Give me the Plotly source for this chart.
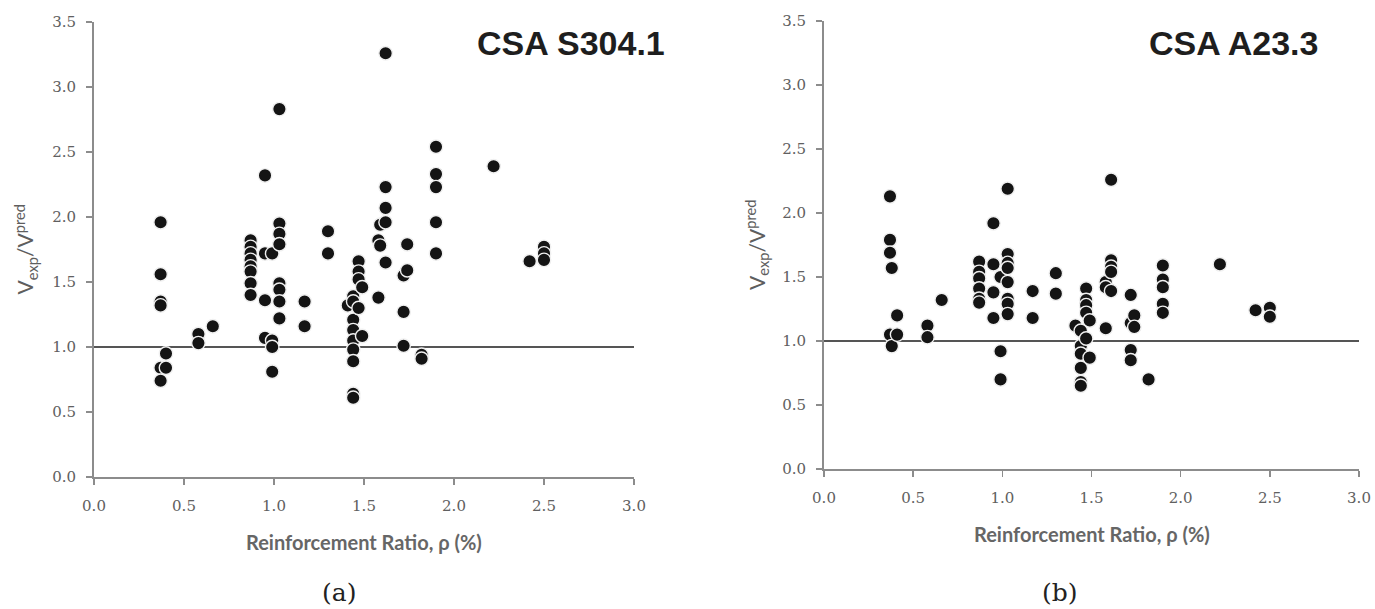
import plotly.graph_objects as go

# ---------------- data ----------------
# (a) CSA S304.1
rho_a = [0.37, 0.37, 0.37, 0.37, 0.37, 0.37,
         0.40, 0.40,
         0.58, 0.58,
         0.66,
         0.87, 0.87, 0.87, 0.87, 0.87, 0.87, 0.87, 0.87,
         0.95, 0.95, 0.95, 0.95,
         0.99, 0.99, 0.99, 0.99,
         1.03, 1.03, 1.03, 1.03, 1.03, 1.03, 1.03, 1.03,
         1.17, 1.17,
         1.30, 1.30,
         1.41,
         1.44, 1.44, 1.44, 1.44, 1.44, 1.44, 1.44, 1.44, 1.44,
         1.47, 1.47, 1.47, 1.47,
         1.49, 1.49,
         1.58, 1.58,
         1.59, 1.59,
         1.62, 1.62, 1.62, 1.62, 1.62,
         1.72, 1.72, 1.72,
         1.74, 1.74,
         1.82, 1.82,
         1.90, 1.90, 1.90, 1.90, 1.90,
         2.22,
         2.42,
         2.50, 2.50, 2.50]
ratio_a = [1.96, 1.56, 1.35, 1.32, 0.84, 0.74,
           0.95, 0.84,
           1.10, 1.03,
           1.16,
           1.82, 1.77, 1.72, 1.67, 1.62, 1.58, 1.49, 1.40,
           2.32, 1.72, 1.36, 1.07,
           1.72, 1.05, 1.00, 0.81,
           2.83, 1.95, 1.87, 1.79, 1.49, 1.44, 1.35, 1.22,
           1.35, 1.16,
           1.89, 1.72,
           1.32,
           1.39, 1.35, 1.21, 1.13, 1.05, 0.98, 0.89, 0.64, 0.61,
           1.66, 1.58, 1.52, 1.30,
           1.46, 1.085,
           1.82, 1.38,
           1.94, 1.78,
           3.26, 2.23, 2.07, 1.96, 1.65,
           1.55, 1.27, 1.01,
           1.79, 1.59,
           0.94, 0.91,
           2.54, 2.33, 2.23, 1.96, 1.72,
           2.39,
           1.66,
           1.77, 1.72, 1.67]

# (b) CSA A23.3
rho_b = [0.37, 0.37, 0.37, 0.37,
         0.38, 0.38,
         0.41, 0.41,
         0.58, 0.58,
         0.66,
         0.87, 0.87, 0.87, 0.87, 0.87, 0.87,
         0.95, 0.95, 0.95, 0.95,
         0.99, 0.99, 0.99,
         1.03, 1.03, 1.03, 1.03, 1.03, 1.03, 1.03, 1.03,
         1.17, 1.17,
         1.30, 1.30,
         1.41,
         1.44, 1.44, 1.44, 1.44, 1.44, 1.44,
         1.47, 1.47, 1.47, 1.47, 1.47,
         1.49, 1.49,
         1.58, 1.58, 1.58,
         1.61, 1.61, 1.61, 1.61, 1.61,
         1.72, 1.72, 1.72, 1.72,
         1.74, 1.74,
         1.82,
         1.90, 1.90, 1.90, 1.90, 1.90,
         2.22,
         2.42,
         2.50, 2.50]
ratio_b = [2.13, 1.79, 1.69, 1.05,
           1.57, 0.96,
           1.20, 1.05,
           1.12, 1.03,
           1.32,
           1.62, 1.54, 1.49, 1.41, 1.33, 1.30,
           1.92, 1.60, 1.38, 1.18,
           1.50, 0.92, 0.70,
           2.19, 1.68, 1.61, 1.57, 1.46, 1.33, 1.29, 1.21,
           1.39, 1.18,
           1.53, 1.37,
           1.12,
           1.08, 0.96, 0.90, 0.79, 0.68, 0.65,
           1.41, 1.32, 1.28, 1.22, 1.02,
           1.16, 0.87,
           1.46, 1.42, 1.10,
           2.26, 1.63, 1.58, 1.54, 1.39,
           1.36, 1.14, 0.93, 0.85,
           1.20, 1.11,
           0.70,
           1.59, 1.48, 1.42, 1.29, 1.22,
           1.60,
           1.24,
           1.26, 1.19]

REF_RATIO = 1.0
y_ticks = [0.0, 0.5, 1.0, 1.5, 2.0, 2.5, 3.0, 3.5]
x_ticks = [0.0, 0.5, 1.0, 1.5, 2.0, 2.5, 3.0]
panel_titles = ["CSA S304.1", "CSA A23.3"]
panel_tags = ["(a)", "(b)"]
x_title = "Reinforcement Ratio, \u03c1 (%)"
y_title = "V<sub>exp</sub>/V<sup>pred</sup>"

# ---------------- figure ----------------
W, H = 1375, 609
fig = go.Figure()

marker = dict(color="#141414", size=13.5, line=dict(color="#f0f0f0", width=1.4))
fig.add_trace(go.Scatter(x=rho_a, y=ratio_a, mode="markers", marker=marker,
                         xaxis="x", yaxis="y", showlegend=False, hoverinfo="skip"))
fig.add_trace(go.Scatter(x=rho_b, y=ratio_b, mode="markers", marker=marker,
                         xaxis="x2", yaxis="y2", showlegend=False, hoverinfo="skip"))

axis_col = "#8c8c8c"
tickfont = dict(family="DejaVu Serif", size=15, color="#606060")

def xa(domain, anchor):
    return dict(domain=domain, anchor=anchor, range=[0, 3.0], tickvals=x_ticks,
                ticktext=[f"{v:.1f}" for v in x_ticks],
                showgrid=False, zeroline=False, showline=True,
                linecolor=axis_col, linewidth=2, ticks="outside", ticklen=6,
                tickwidth=1.5, tickcolor=axis_col, tickfont=tickfont,
                ticklabelstandoff=8, fixedrange=True, automargin=False)

def ya(domain, anchor):
    return dict(domain=domain, anchor=anchor, range=[0, 3.5], tickvals=y_ticks,
                ticktext=[f"{v:.1f}" for v in y_ticks],
                showgrid=False, zeroline=False, showline=True,
                linecolor=axis_col, linewidth=2, ticks="outside", ticklen=6,
                tickwidth=1.5, tickcolor=axis_col, tickfont=tickfont,
                ticklabelstandoff=7, fixedrange=True, automargin=False)

# pixel geometry of the two panels
L_x0, L_x1, L_ytop, L_ybot = 94, 634, 22, 477
R_x0, R_x1, R_ytop, R_ybot = 824, 1359, 21, 469

fig.update_layout(
    width=W, height=H,
    margin=dict(l=0, r=0, t=0, b=0, autoexpand=False),
    paper_bgcolor="white", plot_bgcolor="white",
    xaxis=xa([L_x0 / W, L_x1 / W], "y"),
    yaxis=ya([(H - L_ybot) / H, (H - L_ytop) / H], "x"),
    xaxis2=xa([R_x0 / W, R_x1 / W], "y2"),
    yaxis2=ya([(H - R_ybot) / H, (H - R_ytop) / H], "x2"),
)

for xr, yr in [("x", "y"), ("x2", "y2")]:
    fig.add_shape(type="line", xref=xr + " domain", yref=yr, x0=0, x1=1,
                  y0=REF_RATIO, y1=REF_RATIO, line=dict(color="#555555", width=2.2),
                  layer="below")

def note(text, cx, cy, font, angle=0):
    return dict(text=text, x=cx / W, y=(H - cy) / H, xref="paper", yref="paper",
                xanchor="center", yanchor="middle", showarrow=False,
                textangle=angle, font=font)

ann = []
title_font = dict(family="Liberation Sans", size=34, color="#1e1e1e")
ann.append(note("<b>" + panel_titles[0] + "</b>", 571, 43, title_font))
ann.append(note("<b>" + panel_titles[1] + "</b>", 1233, 43, title_font))

lab_font = dict(family="Lato", size=20, color="#666666", weight="bold")
ann.append(note(x_title, (L_x0 + L_x1) / 2, 542, lab_font))
ann.append(note(x_title, (R_x0 + R_x1) / 2, 534, lab_font))
ylab_font = dict(family="Lato", size=21, color="#5e5e5e")
ann.append(note(y_title, 25, (L_ytop + L_ybot) / 2, ylab_font, -90))
ann.append(note(y_title, 757, (R_ytop + R_ybot) / 2, ylab_font, -90))

tag_font = dict(family="DejaVu Serif", size=25, color="#222222")
ann.append(note(panel_tags[0], 339, 592, tag_font))
ann.append(note(panel_tags[1], 1060, 592, tag_font))

fig.update_layout(annotations=ann)
fig.write_html("out.html", config={"displayModeBar": False, "staticPlot": True},
               post_script="document.body.style.margin='0';document.body.style.padding='0';")
